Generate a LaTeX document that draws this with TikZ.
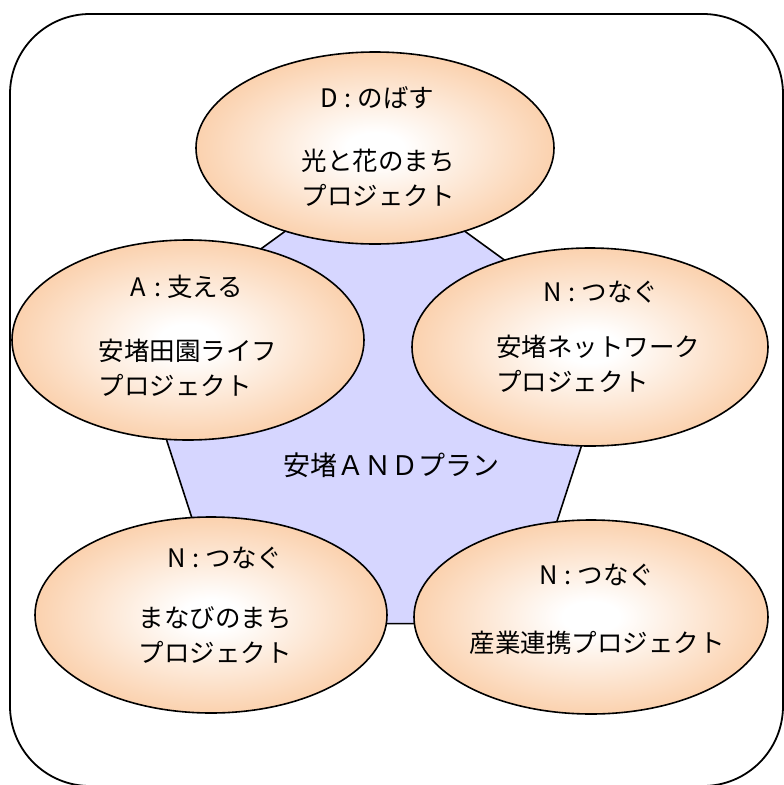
\documentclass[tikz,border=0pt]{standalone}
\usepackage{fontspec}
\newfontfamily\cjk{Noto Sans CJK JP}
\usetikzlibrary{shapes.geometric}
\definecolor{peach}{HTML}{F9BE8C}
\definecolor{lilac}{HTML}{D6D6FF}
\pgfdeclareradialshading{peachglow}{\pgfpointorigin}{color(0bp)=(white); color(4bp)=(white); color(34bp)=(peach); color(50bp)=(peach)}
\newcommand\hd[2]{\makebox[0.75em]{#1}\makebox[0.75em]{:}#2}
\tikzset{
  bubble/.style={ellipse, draw=black, line width=1.6pt, shading=peachglow, inner sep=0pt},
  jp/.style={font=\cjk\fontsize{25.5}{35}\selectfont, align=left, inner sep=0pt},
}

\begin{document}
\begin{tikzpicture}[x=1pt, y=-1pt]
        \useasboundingbox (0,0) rectangle (784,785);
        \clip (0,0) rectangle (784,785);
        \draw[line width=1.8pt, rounded corners=80pt] (10,14) rectangle (783,786);
        % pentagon behind the five projects
        \node[regular polygon, regular polygon sides=5, minimum size=506pt, inner sep=0pt,
          draw, line width=1.6pt, fill=lilac] (plan) at (375,419) {};
        \node[jp, font=\cjk\fontsize{27}{35}\selectfont] (planT) at (391,465) {安堵ＡＮＤプラン};
        % projects
        \node[bubble, minimum width=358pt, minimum height=192pt] (nobasu) at (375,148) {};
        \node[bubble, minimum width=352pt, minimum height=200pt] (sasaeru) at (188,340) {};
        \node[bubble, minimum width=356pt, minimum height=198pt] (network) at (590,347) {};
        \node[bubble, minimum width=352pt, minimum height=196pt] (manabi) at (211,615) {};
        \node[bubble, minimum width=354pt, minimum height=194pt] (sangyo) at (591,617) {};
        \node[jp] (nobasuH) at (377,98) {\hd{D}{のばす}};
        \node[jp] (nobasuT) at (378,178) {光と花のまち\\プロジェクト};
        \node[jp] (sasaeruH) at (186,287) {\hd{A}{支える}};
        \node[jp] (sasaeruT) at (188,368) {安堵田園ライフ\\プロジェクト};
        \node[jp] (networkH) at (601,292) {\hd{N}{つなぐ}};
        \node[jp] (networkT) at (598,364) {安堵ネットワーク\\プロジェクト};
        \node[jp] (manabiH) at (225,558) {\hd{N}{つなぐ}};
        \node[jp] (manabiT) at (215,635) {まなびのまち\\プロジェクト};
        \node[jp] (sangyoH) at (597,575) {\hd{N}{つなぐ}};
        \node[jp] (sangyoT) at (597,643) {産業連携プロジェクト};
      \end{tikzpicture}
\end{document}
